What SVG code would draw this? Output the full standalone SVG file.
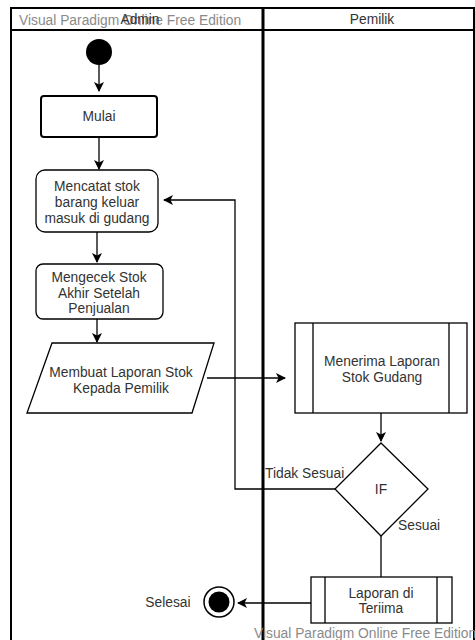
<svg xmlns="http://www.w3.org/2000/svg" width="475" height="640" viewBox="0 0 475 640">
<style>
text{font-family:"Liberation Sans",Arial,sans-serif;font-size:13.8px;fill:#333;text-anchor:middle;dominant-baseline:central}
.wm{fill:#8a8a8a;text-anchor:start}
.lane{fill:none;stroke:#000;stroke-width:2}
.box{fill:#fff;stroke:#000;stroke-width:1.3}
.edge{fill:none;stroke:#000;stroke-width:1.3}
.lbl{text-anchor:start}
</style>
<defs>
<marker id="arr" viewBox="0 0 10 10" refX="9" refY="5" markerWidth="10" markerHeight="10" markerUnits="userSpaceOnUse" orient="auto">
<path d="M0,0 L10,5 L0,10 L2.5,5 z" fill="#000"/>
</marker>
</defs>
<rect width="475" height="640" fill="#fff"/>
<g id="lanes">
<path class="lane" d="M11,642 V8 H474 V642 M11,30 H474"/>
<path d="M263,8 V642" stroke="#000" stroke-width="3" fill="none"/>
<text class="wm" x="19" y="20">Visual Paradigm Online Free Edition</text>
<text x="140" y="19">Admin</text>
<text x="372" y="19">Pemilik</text>
</g>
<g id="connectors">
<path class="edge" d="M99,65 V91" marker-end="url(#arr)"/>
<path class="edge" d="M99,137 V169" marker-end="url(#arr)"/>
<path class="edge" d="M97,232 V262" marker-end="url(#arr)"/>
<path class="edge" d="M97,319 V342" marker-end="url(#arr)"/>
<path class="edge" d="M207,378 H285" marker-end="url(#arr)"/>
<path class="edge" d="M381,413 V441" marker-end="url(#arr)"/>
<path class="edge" d="M335,489 H235 V200 H164" marker-end="url(#arr)"/>
<path class="edge" d="M381,536 V577"/>
<path class="edge" d="M311,603 H238" marker-end="url(#arr)"/>
<text class="lbl" x="265" y="473">Tidak Sesuai</text>
<text class="lbl" x="398" y="525">Sesuai</text>
</g>
<g id="start">
<circle cx="99" cy="52" r="13" fill="#000"/>
</g>
<g id="mulai">
<rect x="41" y="96" width="116" height="41" rx="3" fill="#fff" stroke="#000" stroke-width="2"/>
<text x="99" y="116">Mulai</text>
</g>
<g id="mencatat">
<rect class="box" x="36" y="170" width="122" height="62" rx="9"/>
<text x="97" y="186">Mencatat stok</text>
<text x="97" y="202">barang keluar</text>
<text x="97" y="218">masuk di gudang</text>
</g>
<g id="mengecek">
<rect class="box" x="36" y="264" width="127" height="55" rx="7"/>
<text x="99" y="277">Mengecek Stok</text>
<text x="99" y="293">Akhir Setelah</text>
<text x="99" y="308">Penjualan</text>
</g>
<g id="membuat">
<path class="box" d="M52,343 H214 L192,413 H27 Z"/>
<text x="121" y="372">Membuat Laporan Stok</text>
<text x="121" y="388">Kepada Pemilik</text>
</g>
<g id="menerima">
<rect class="box" x="295" y="323" width="172" height="90"/>
<path class="edge" d="M313,323 V413 M449,323 V413"/>
<text x="382" y="361">Menerima Laporan</text>
<text x="382" y="377">Stok Gudang</text>
</g>
<g id="if">
<path class="box" d="M381,443 L428,489 L381,536 L335,489 Z"/>
<text x="381" y="489">IF</text>
</g>
<g id="laporan">
<rect class="box" x="311" y="577" width="141" height="46"/>
<path class="edge" d="M325,577 V623 M437,577 V623"/>
<text x="381" y="593">Laporan di</text>
<text x="381" y="608">Teriima</text>
</g>
<g id="end">
<circle cx="219" cy="602" r="15" fill="#fff" stroke="#000" stroke-width="1.5"/>
<circle cx="219" cy="602" r="10.5" fill="#000"/>
<text x="168" y="602">Selesai</text>
</g>
<text class="wm" x="254" y="633">Visual Paradigm Online Free Edition</text>
</svg>
